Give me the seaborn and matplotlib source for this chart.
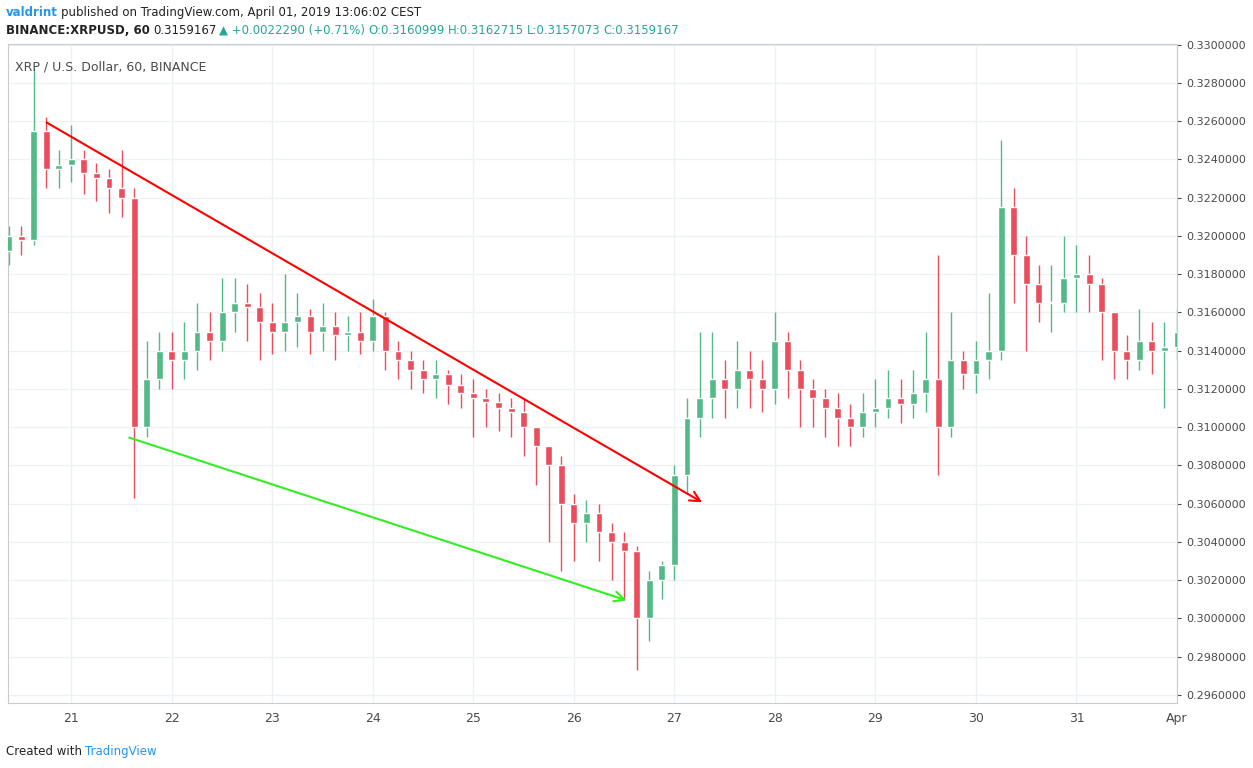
import numpy as np
import pandas as pd
import matplotlib
matplotlib.use("Agg")
import matplotlib.pyplot as plt
import seaborn as sns

# -- Дані (3-годинні свічки, час у днях березня)
start_day = 20.375
step = 0.125

closes = [
    0.3200, 0.3198, 0.3255, 0.3235, 0.3237,
    0.3240, 0.3233, 0.3230, 0.3225, 0.3220, 0.3100, 0.3125, 0.3140,
    0.3135, 0.3140, 0.3150, 0.3145, 0.3160, 0.3165, 0.3163, 0.3155,
    0.3150, 0.3155, 0.3158, 0.3150, 0.3153, 0.3148, 0.3150, 0.3145,
    0.3158, 0.3140, 0.3135, 0.3130, 0.3125, 0.3128, 0.3122, 0.3118,
    0.3115, 0.3113, 0.3110, 0.3108, 0.3100, 0.3090, 0.3080, 0.3060,
    0.3050, 0.3055, 0.3045, 0.3040, 0.3035, 0.3000, 0.3020, 0.3028,
    0.3075, 0.3105, 0.3115, 0.3125, 0.3120, 0.3130, 0.3125, 0.3120,
    0.3145, 0.3130, 0.3120, 0.3115, 0.3110, 0.3105, 0.3100, 0.3108,
    0.3110, 0.3115, 0.3112, 0.3118, 0.3125, 0.3100, 0.3135, 0.3128,
    0.3135, 0.3140, 0.3215, 0.3190, 0.3175, 0.3165, 0.3165, 0.3178,
    0.3180, 0.3175, 0.3160, 0.3140, 0.3135, 0.3145, 0.3140, 0.3142,
    0.3150,
]
first_open = 0.3192

highs = [
    0.3205, 0.3205, 0.3288, 0.3262, 0.3245,
    0.3258, 0.3245, 0.3238, 0.3235, 0.3245, 0.3225, 0.3145, 0.3150,
    0.3150, 0.3155, 0.3165, 0.3160, 0.3178, 0.3178, 0.3175, 0.3170,
    0.3165, 0.3180, 0.3170, 0.3162, 0.3165, 0.3160, 0.3158, 0.3160,
    0.3167, 0.3160, 0.3145, 0.3140, 0.3135, 0.3135, 0.3130, 0.3128,
    0.3125, 0.3120, 0.3118, 0.3115, 0.3115, 0.3100, 0.3090, 0.3085,
    0.3065, 0.3062, 0.3060, 0.3050, 0.3045, 0.3038, 0.3025, 0.3030,
    0.3080, 0.3115, 0.3150, 0.3150, 0.3135, 0.3145, 0.3140, 0.3135,
    0.3160, 0.3150, 0.3135, 0.3125, 0.3120, 0.3118, 0.3112, 0.3118,
    0.3125, 0.3130, 0.3125, 0.3130, 0.3150, 0.3190, 0.3160, 0.3140,
    0.3145, 0.3170, 0.3250, 0.3225, 0.3200, 0.3185, 0.3185, 0.3200,
    0.3195, 0.3190, 0.3178, 0.3160, 0.3148, 0.3162, 0.3155, 0.3155,
    0.3162,
]

lows = [
    0.3185, 0.3190, 0.3195, 0.3225, 0.3225,
    0.3228, 0.3222, 0.3218, 0.3212, 0.3210, 0.3063, 0.3095, 0.3120,
    0.3120, 0.3125, 0.3130, 0.3135, 0.3140, 0.3150, 0.3145, 0.3135,
    0.3138, 0.3140, 0.3142, 0.3138, 0.3140, 0.3135, 0.3140, 0.3138,
    0.3140, 0.3130, 0.3125, 0.3120, 0.3118, 0.3115, 0.3112, 0.3110,
    0.3095, 0.3100, 0.3098, 0.3095, 0.3085, 0.3070, 0.3040, 0.3025,
    0.3030, 0.3040, 0.3030, 0.3020, 0.3010, 0.2973, 0.2988, 0.3010,
    0.3020, 0.3065, 0.3095, 0.3105, 0.3105, 0.3110, 0.3110, 0.3108,
    0.3112, 0.3115, 0.3100, 0.3100, 0.3095, 0.3090, 0.3090, 0.3095,
    0.3100, 0.3105, 0.3102, 0.3105, 0.3108, 0.3075, 0.3095, 0.3120,
    0.3118, 0.3125, 0.3135, 0.3165, 0.3140, 0.3155, 0.3150, 0.3160,
    0.3160, 0.3160, 0.3135, 0.3125, 0.3125, 0.3130, 0.3128, 0.3110,
    0.3135,
]

day_ticks = [21, 22, 23, 24, 25, 26, 27, 28, 29, 30, 31, 32]
day_labels = ["21", "22", "23", "24", "25", "26", "27", "28", "29", "30", "31", "Apr"]
price_ticks = np.arange(0.2960, 0.33001, 0.002)

# Лінії тренду (день, ціна)
red_line = [(20.73, 0.3260), (27.3, 0.3060)]
green_line = [(21.55, 0.3095), (26.55, 0.3009)]

UP = "#53b987"
DOWN = "#eb4d5c"

df = pd.DataFrame({"close": closes, "high": highs, "low": lows})
df["t"] = start_day + step * np.arange(len(df))
df["open"] = [first_open] + closes[:-1]
df["up"] = df["close"] >= df["open"]

sns.set_style("white")
fig = plt.figure(figsize=(12.53, 7.68), dpi=100)
ax = fig.add_axes([8 / 1253, 65 / 768, 1169 / 1253, 659 / 768])

for c in ax.spines.values():
    c.set_color("#c8cbd0")

for d in day_ticks:
    ax.axvline(d, color="#edf1f4", lw=1, zorder=0)
for p in price_ticks:
    ax.axhline(p, color="#edf1f4", lw=1, zorder=0)

colors = np.where(df["up"], UP, DOWN)
ax.vlines(df["t"], df["low"], df["high"], colors=colors, lw=1, zorder=2)
body_bottom = df[["open", "close"]].min(axis=1)
body_h = (df["close"] - df["open"]).abs().clip(lower=0.00004)
ax.bar(df["t"], body_h, bottom=body_bottom, width=step * 0.55, color=colors, zorder=3)

ax.annotate("", xy=red_line[1], xytext=red_line[0],
            arrowprops=dict(arrowstyle="->", color="#ff0000", lw=1.5, mutation_scale=18))
ax.annotate("", xy=green_line[1], xytext=green_line[0],
            arrowprops=dict(arrowstyle="->", color="#33ee22", lw=1.5, mutation_scale=18))

ax.set_xlim(20.37, 32.0)
ax.set_ylim(0.29558, 0.33003)
ax.set_xticks(day_ticks)
ax.set_xticklabels(day_labels)
ax.yaxis.tick_right()
ax.set_yticks(price_ticks)
ax.set_yticklabels([f"{p:.7f}" for p in price_ticks])
ax.tick_params(axis="both", labelsize=8, colors="#4a4a4a", length=3)
ax.tick_params(axis="x", labelsize=9)

ax.text(0.006, 0.975, "XRP / U.S. Dollar, 60, BINANCE", transform=ax.transAxes,
        fontsize=9, color="#4a4a4a", va="top")


def chain(parts, x, y):
    # тексти один за одним у рядок
    prev = None
    for s, col, bold in parts:
        kw = dict(color=col, fontsize=8.5, fontweight="bold" if bold else "normal", va="baseline")
        if prev is None:
            prev = fig.text(x, y, s, **kw)
        else:
            prev = fig.text(0, 0, s, transform=matplotlib.transforms.offset_copy(
                prev.get_transform(), fig=fig, x=0, y=0), **kw)
            prev = None if False else prev
    return prev


renderer = fig.canvas.get_renderer()


def write_line(parts, x_px, y_px):
    x = x_px
    for s, col, bold in parts:
        t = fig.text(x / 1253, 1 - y_px / 768, s, color=col, fontsize=8.5,
                     fontweight="bold" if bold else "normal", va="baseline")
        x += t.get_window_extent(renderer).width + 3


write_line([("valdrint", "#2196f3", True),
            ("published on TradingView.com, April 01, 2019 13:06:02 CEST", "#222222", False)], 6, 16)
write_line([("BINANCE:XRPUSD, 60", "#222222", True),
            ("0.3159167", "#222222", False),
            ("\u25b2 +0.0022290 (+0.71%)", "#26a69a", False),
            ("O:0.3160999", "#26a69a", False),
            ("H:0.3162715", "#26a69a", False),
            ("L:0.3157073", "#26a69a", False),
            ("C:0.3159167", "#26a69a", False)], 6, 34)
write_line([("Created with", "#222222", False),
            ("TradingView", "#2196f3", False)], 6, 755)

fig.savefig("out.png", dpi=100)
